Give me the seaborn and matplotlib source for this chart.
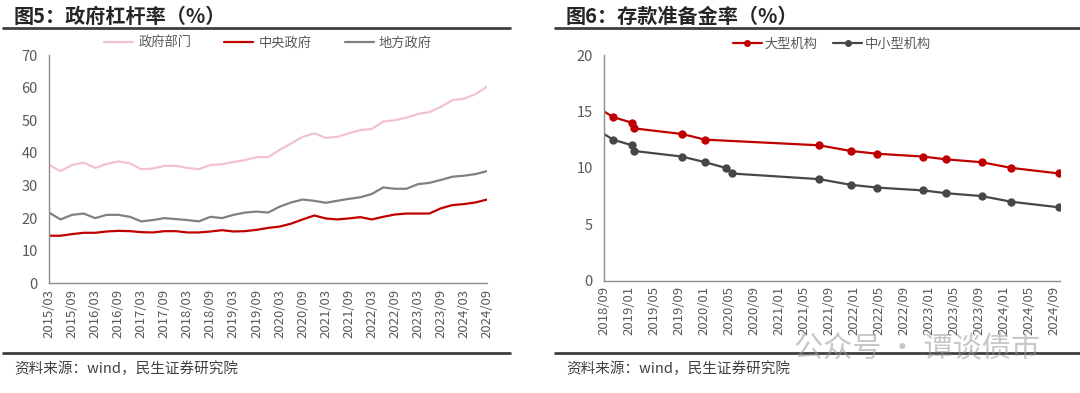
import pandas as pd
import seaborn as sns
import matplotlib.pyplot as plt
import matplotlib.dates as mdates
from matplotlib.lines import Line2D

# ---- data: government leverage (quarterly, %) ----
quarters = pd.date_range("2015-03-31", "2024-09-30", freq="QE")
gov_total = [36.3, 34.4, 36.3, 37.0, 35.4, 36.6, 37.4, 36.8, 35.0, 35.2,
             36.0, 36.0, 35.4, 35.0, 36.3, 36.5, 37.2, 37.8, 38.7, 38.7,
             40.9, 42.9, 44.9, 46.0, 44.6, 44.9, 46.0, 47.0, 47.3, 49.6,
             50.0, 50.8, 51.9, 52.5, 54.1, 56.2, 56.6, 58.0, 60.3]
gov_central = [14.6, 14.6, 15.1, 15.5, 15.5, 15.9, 16.1, 16.0, 15.7, 15.6,
               16.0, 16.0, 15.6, 15.6, 15.9, 16.3, 15.9, 16.0, 16.4, 17.0,
               17.4, 18.3, 19.6, 20.8, 19.9, 19.6, 19.9, 20.3, 19.6, 20.4,
               21.1, 21.4, 21.4, 21.4, 23.0, 24.0, 24.3, 24.8, 25.7]
gov_local = [21.7, 19.6, 21.0, 21.4, 20.0, 21.0, 21.0, 20.4, 19.0, 19.4,
             20.0, 19.7, 19.4, 19.0, 20.4, 20.0, 21.0, 21.7, 22.0, 21.7,
             23.5, 24.8, 25.7, 25.3, 24.7, 25.3, 25.9, 26.4, 27.4, 29.4,
             29.0, 29.0, 30.4, 30.8, 31.7, 32.7, 33.0, 33.5, 34.4]

# ---- data: required reserve ratio (%) ----
rrr_large_dates = pd.to_datetime([
    "2018-09-01", "2018-10-15", "2019-01-15", "2019-01-25", "2019-09-16",
    "2020-01-06", "2021-07-15", "2021-12-15", "2022-04-25", "2022-12-05",
    "2023-03-27", "2023-09-15", "2024-02-05", "2024-09-27"])
rrr_large = [15.0, 14.5, 14.0, 13.5, 13.0, 12.5, 12.0, 11.5, 11.25, 11.0,
             10.75, 10.5, 10.0, 9.5]
rrr_small_dates = pd.to_datetime([
    "2018-09-01", "2018-10-15", "2019-01-15", "2019-01-25", "2019-09-16",
    "2020-01-06", "2020-04-15", "2020-05-15", "2021-07-15", "2021-12-15",
    "2022-04-25", "2022-12-05", "2023-03-27", "2023-09-15", "2024-02-05",
    "2024-09-27"])
rrr_small = [13.0, 12.5, 12.0, 11.5, 11.0, 10.5, 10.0, 9.5, 9.0, 8.5, 8.25,
             8.0, 7.75, 7.5, 7.0, 6.5]

sns.set_theme(style="white")
plt.rcParams["font.family"] = ["Noto Sans CJK SC", "DejaVu Sans"]
plt.rcParams["axes.unicode_minus"] = False

axis_grey = "#8c8c8c"
text_grey = "#595959"

fig = plt.figure(figsize=(10.8, 3.93), dpi=100)
ax1 = fig.add_axes([0.0454, 0.279, 0.4056, 0.581])
ax2 = fig.add_axes([0.5593, 0.2858, 0.4222, 0.5742])

# left chart
df_gov = pd.DataFrame({
    "date": list(quarters) * 3,
    "value": gov_total + gov_central + gov_local,
    "series": ["政府部门"] * len(quarters) + ["中央政府"] * len(quarters)
              + ["地方政府"] * len(quarters),
})
gov_colors = {"政府部门": "#F2C3CB", "中央政府": "#C00000", "地方政府": "#808080"}
sns.lineplot(data=df_gov, x="date", y="value", hue="series", palette=gov_colors,
             linewidth=1.6, ax=ax1, legend=False)
ax1.set_xlim(quarters[0], quarters[-1])
ax1.set_ylim(0, 70)
ax1.set_yticks(range(0, 71, 10))
ax1.set_xticks(quarters[::2])
ax1.set_xticklabels([d.strftime("%Y/%m") for d in quarters[::2]], rotation=90)
handles1 = [Line2D([], [], color=c, lw=1.6) for c in gov_colors.values()]
ax1.legend(handles1, list(gov_colors.keys()), loc="lower center",
           bbox_to_anchor=(0.5, 1.0), ncol=3, frameon=False, fontsize=9.5,
           handlelength=2.2, handletextpad=0.4, columnspacing=2.5,
           labelcolor=text_grey, borderaxespad=0.0)

# right chart
df_rrr = pd.concat([
    pd.DataFrame({"date": rrr_large_dates, "value": rrr_large, "series": "大型机构"}),
    pd.DataFrame({"date": rrr_small_dates, "value": rrr_small, "series": "中小型机构"}),
])
rrr_colors = {"大型机构": "#C00000", "中小型机构": "#474747"}
for name, color in rrr_colors.items():
    sub = df_rrr[df_rrr["series"] == name]
    sns.lineplot(data=sub, x="date", y="value", color=color, linewidth=1.6,
                 marker="o", markersize=6, markeredgewidth=0,
                 markevery=list(range(1, len(sub))), ax=ax2, legend=False)
ax2.set_xlim(pd.Timestamp("2018-09-01"), pd.Timestamp("2024-10-01"))
ax2.set_ylim(0, 20)
ax2.set_yticks(range(0, 21, 5))
ax2.xaxis.set_major_locator(mdates.MonthLocator(bymonth=[1, 5, 9]))
ax2.xaxis.set_major_formatter(mdates.DateFormatter("%Y/%m"))
plt.setp(ax2.get_xticklabels(), rotation=90)
handles2 = [Line2D([], [], color=c, lw=1.6, marker="o", markersize=5,
                   markeredgewidth=0) for c in rrr_colors.values()]
ax2.legend(handles2, list(rrr_colors.keys()), loc="lower center",
           bbox_to_anchor=(0.5, 1.0), ncol=2, frameon=False, fontsize=9.5,
           handlelength=2.2, handletextpad=0.2, columnspacing=1.2,
           labelcolor=text_grey, borderaxespad=-0.1)

for ax in (ax1, ax2):
    ax.set_xlabel("")
    ax.set_ylabel("")
    sns.despine(ax=ax)
    for side in ("left", "bottom"):
        ax.spines[side].set_color(axis_grey)
        ax.spines[side].set_linewidth(1.0)
    ax.tick_params(axis="both", direction="in", length=4, width=1,
                   color=axis_grey, labelcolor=text_grey)
    ax.tick_params(axis="y", labelsize=10.5, pad=8)
    ax.tick_params(axis="x", labelsize=9.5, pad=4)

# titles, rules and source notes
fig.text(0.013, 0.958, "图5：政府杠杆率（%）", fontsize=14.5, fontweight="bold",
         color="#262626", va="center")
fig.text(0.524, 0.958, "图6：存款准备金率（%）", fontsize=14.5, fontweight="bold",
         color="#262626", va="center")
for x0, x1 in ((0.003, 0.472), (0.514, 1.0)):
    fig.add_artist(Line2D([x0, x1], [0.928, 0.928], color="#404040", lw=2))
    fig.add_artist(Line2D([x0, x1], [0.102, 0.102], color="#404040", lw=2))
fig.text(0.013, 0.061, "资料来源：wind，民生证券研究院", fontsize=10.5,
         color="#404040", va="center")
fig.text(0.524, 0.061, "资料来源：wind，民生证券研究院", fontsize=10.5,
         color="#404040", va="center")

# watermark
fig.text(0.735, 0.11, "公众号 · 谭谈债市", fontsize=21, color="#9a9a9a",
         alpha=0.55, va="center")

fig.savefig("out.png", dpi=100)
